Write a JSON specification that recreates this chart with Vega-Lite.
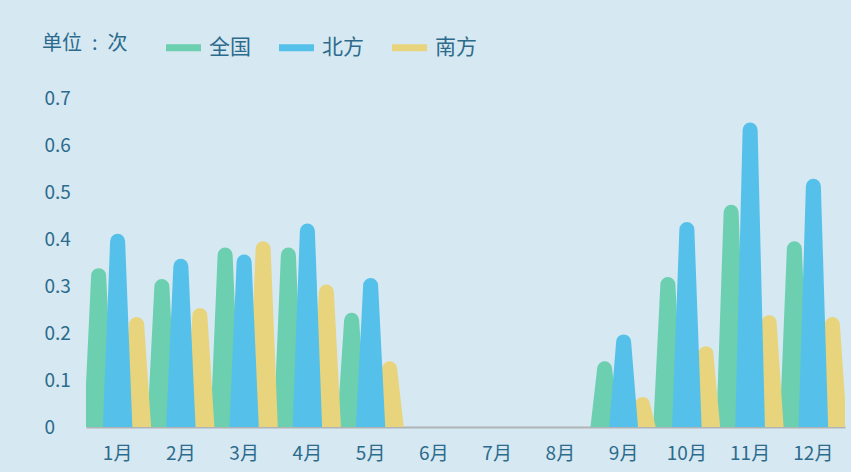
{
  "$schema": "https://vega.github.io/schema/vega-lite/v6.json",
  "width": 759,
  "height": 329,
  "autosize": {"type": "none"},
  "padding": {"left": 86, "top": 98, "right": 6, "bottom": 45},
  "background": "#d6e8f2",
  "config": {
    "view": {"stroke": null},
    "font": "Noto Sans CJK SC"
  },
  "data": {
    "values": [
      {"m": "1月", "s": "全国", "v": 0.338}, {"m": "1月", "s": "北方", "v": 0.411}, {"m": "1月", "s": "南方", "v": 0.234},
      {"m": "2月", "s": "全国", "v": 0.315}, {"m": "2月", "s": "北方", "v": 0.358}, {"m": "2月", "s": "南方", "v": 0.253},
      {"m": "3月", "s": "全国", "v": 0.382}, {"m": "3月", "s": "北方", "v": 0.367}, {"m": "3月", "s": "南方", "v": 0.395},
      {"m": "4月", "s": "全国", "v": 0.382}, {"m": "4月", "s": "北方", "v": 0.433}, {"m": "4月", "s": "南方", "v": 0.303},
      {"m": "5月", "s": "全国", "v": 0.243}, {"m": "5月", "s": "北方", "v": 0.317}, {"m": "5月", "s": "南方", "v": 0.14},
      {"m": "6月", "s": "全国", "v": 0}, {"m": "6月", "s": "北方", "v": 0}, {"m": "6月", "s": "南方", "v": 0},
      {"m": "7月", "s": "全国", "v": 0}, {"m": "7月", "s": "北方", "v": 0}, {"m": "7月", "s": "南方", "v": 0},
      {"m": "8月", "s": "全国", "v": 0}, {"m": "8月", "s": "北方", "v": 0}, {"m": "8月", "s": "南方", "v": 0},
      {"m": "9月", "s": "全国", "v": 0.14}, {"m": "9月", "s": "北方", "v": 0.197}, {"m": "9月", "s": "南方", "v": 0.064},
      {"m": "10月", "s": "全国", "v": 0.319}, {"m": "10月", "s": "北方", "v": 0.436}, {"m": "10月", "s": "南方", "v": 0.172},
      {"m": "11月", "s": "全国", "v": 0.473}, {"m": "11月", "s": "北方", "v": 0.648}, {"m": "11月", "s": "南方", "v": 0.238},
      {"m": "12月", "s": "全国", "v": 0.395}, {"m": "12月", "s": "北方", "v": 0.528}, {"m": "12月", "s": "南方", "v": 0.234}
    ]
  },
  "transform": [
    {"filter": "datum.v > 0"},
    {"fold": ["v"], "as": ["key", "value"]},
    {"impute": "value", "key": "key", "keyvals": ["base", "v"], "groupby": ["m", "s"], "value": 0}
  ],
  "encoding": {
    "x": {
      "field": "m", "type": "nominal", "sort": null,
      "scale": {"type": "band", "domain": ["1月","2月","3月","4月","5月","6月","7月","8月","9月","10月","11月","12月"], "paddingInner": 0, "paddingOuter": 0},
      "axis": {"title": null, "ticks": false, "domainColor": "#b0b4b6", "domainWidth": 2, "labelAngle": 0, "labelPadding": 17, "labelFontSize": 19, "labelColor": "#2c6b8c"}
    },
    "y": {
      "field": "value", "type": "quantitative",
      "scale": {"domain": [0, 0.7]},
      "axis": {"title": null, "values": [0, 0.1, 0.2, 0.3, 0.4, 0.5, 0.6, 0.7], "format": ".1~f", "labelAlign": "left", "labelPadding": 42, "ticks": false, "domain": false, "grid": false, "labelFontSize": 19, "labelColor": "#2c6b8c"}
    },
    "color": {
      "field": "s", "type": "nominal",
      "scale": {"domain": ["全国", "北方", "南方"], "range": ["#6bcfb0", "#55c0e9", "#e8d47c"]},
      "legend": {
        "orient": "none", "legendX": -44, "legendY": -68, "direction": "horizontal",
        "title": "单位\u2002:\u2002次", "titleOrient": "left", "titleFontSize": 20, "titleFontWeight": "normal", "titleColor": "#2c6b8c", "titlePadding": 38,
        "labelFontSize": 21, "labelColor": "#2c6b8c", "labelOffset": 8, "columnPadding": 28,
        "symbolType": "M-1,-0.2H1V0.2H-1Z", "symbolSize": 1225, "symbolStrokeWidth": 0,
        "encode": {"symbols": {"update": {"fill": {"scale": "color", "field": "value"}, "stroke": {"value": "transparent"}, "opacity": {"value": 1}}}}
      }
    },
    "size": {
      "field": "key", "type": "ordinal",
      "scale": {"domain": ["base", "v"], "range": [30, 15]},
      "legend": null
    },
    "detail": {"field": "m"}
  },
  "layer": [
    {"transform": [{"filter": "datum.s === '全国'"}], "mark": {"type": "trail", "clip": true, "yOffset": 7.5, "xOffset": -19}},
    {"transform": [{"filter": "datum.s === '南方'"}], "mark": {"type": "trail", "clip": true, "yOffset": 7.5, "xOffset": 19}},
    {"transform": [{"filter": "datum.s === '北方'"}], "mark": {"type": "trail", "clip": true, "yOffset": 7.5}}
  ]
}
